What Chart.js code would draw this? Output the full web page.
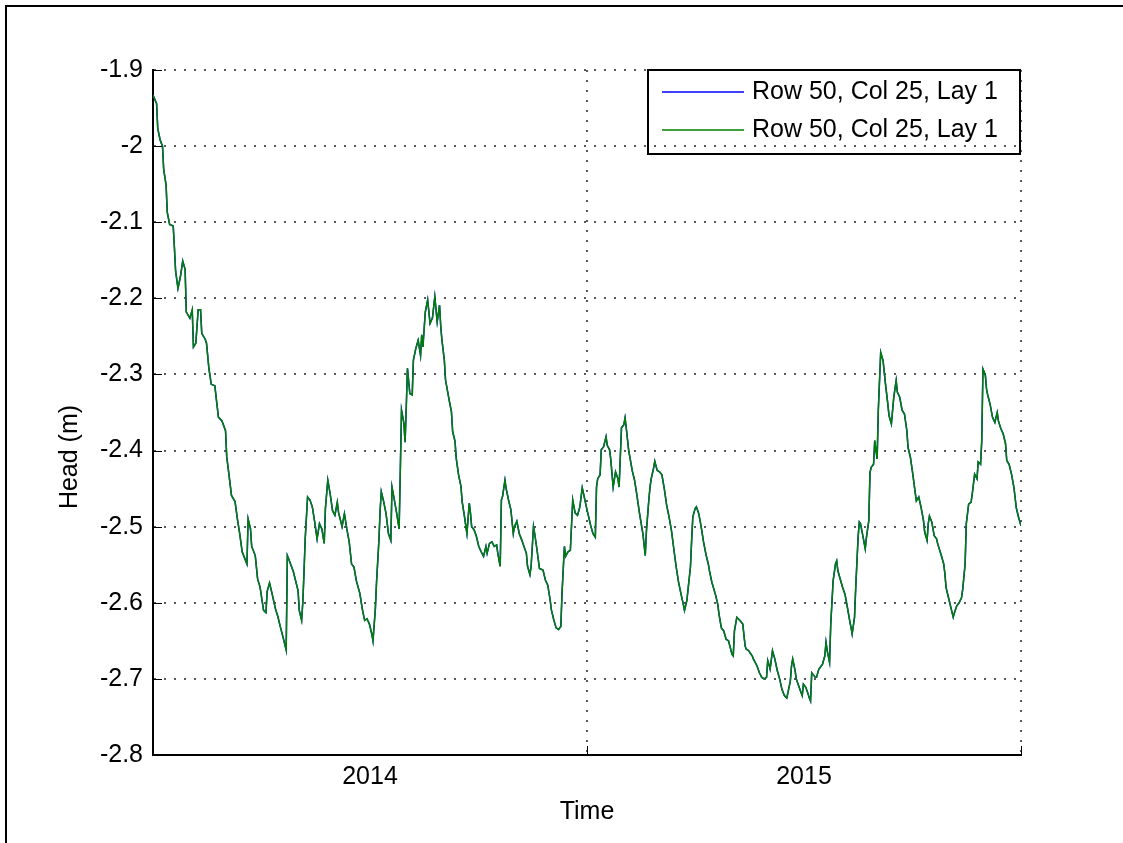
<!DOCTYPE html>
<html>
<head>
<meta charset="utf-8">
<script src="https://cdn.jsdelivr.net/npm/chart.js@4.4.1/dist/chart.umd.min.js"></script>
<style>
  body { margin: 0; background: #fff; }
  #wrap { position: relative; width: 1123px; height: 843px; overflow: hidden; }
  #frame { position: absolute; left: 5px; top: 5px; right: 0; bottom: 0;
           border-top: 2px solid #000; border-left: 2px solid #000; pointer-events: none; }
  canvas { position: absolute; left: 0; top: 0; }
</style>
</head>
<body>
<div id="wrap">
  <canvas id="headChart" width="1123" height="843"></canvas>
  <div id="frame"></div>
</div>
<script>
// days since 1 Jan 2014
const days = [
  0,3,4,6,8,9,11,12,14,17,
  18,19,21,23,25,27,28,31,33,34,
  36,38,40,41,44,45,47,49,52,55,
  58,61,62,64,66,69,71,73,75,77,
  79,80,82,83,86,88,90,93,95,96,
  98,100,103,105,107,110,112,113,115,118,
  122,123,125,126,127,128,130,132,134,136,
  138,140,142,144,145,147,149,151,153,155,
  156,159,161,163,165,167,169,171,174,176,
  178,180,182,184,185,187,188,190,191,192,
  194,196,198,200,201,203,205,207,208,209,
  211,212,213,214,216,218,219,221,223,225,
  226,227,229,231,233,235,237,239,241,242,
  243,245,246,
  249,251,252,254,255,257,259,260,262,264,
  266,267,268,270,272,274,276,278,280,281,
  283,285,287,289,290,292,293,294,296,297,
  299,301,303,304,306,308,310,312,314,315,
  317,318,320,321,323,325,328,330,332,334,
  335,337,339,341,343,344,346,347,349,351,
  353,355,357,359,361,362,365,367,
  368,370,372,373,374,376,377,379,381,382,
  384,385,387,389,391,392,394,396,397,398,
  400,403,405,407,409,411,412,414,415,417,
  418,419,421,422,424,426,428,430,432,434,
  436,438,440,442,444,446,447,449,450,452,
  453,454,456,457,459,461,463,465,467,468,
  470,473,475,476,478,480,482,484,
  487,488,489,491,494,496,498,499,501,504,
  505,508,510,512,514,516,517,518,519,521,
  523,525,527,529,531,533,534,536,537,538,
  540,541,543,545,546,547,549,551,552,553,
  554,557,558,560,562,563,565,566,567,569,
  570,572,574,575,576,578,580,582,584,586,
  587,588,590,591,593,594,595,597,599,600,
  602,603,604,606,607,609,
  610,612,614,616,618,619,621,623,625,626,
  628,630,632,634,635,637,639,641,642,644,
  646,648,649,651,652,653,655,657,659,660,
  663,665,666,667,669,671,673,674,676,678,
  680,681,683,684,686,688,689,691,693,694,
  696,697,698,700,701,702,704,706,708,710,
  711,713,715,717,718,720,722,724,725,726,
  728,730
];

// head (m) at Row 50, Col 25, Lay 1
const head = [
  -1.933,-1.944,-1.977,-1.992,-2.000,-2.031,-2.051,-2.087,-2.103,-2.105,
  -2.133,-2.164,-2.187,-2.172,-2.151,-2.162,-2.218,-2.226,-2.215,-2.264,
  -2.259,-2.215,-2.215,-2.246,-2.254,-2.259,-2.292,-2.313,-2.315,-2.356,
  -2.361,-2.374,-2.408,-2.433,-2.459,-2.467,-2.490,-2.510,-2.533,-2.541,
  -2.549,-2.490,-2.503,-2.526,-2.538,-2.569,-2.579,-2.610,-2.613,-2.585,
  -2.574,-2.587,-2.608,-2.618,-2.631,-2.649,-2.662,-2.538,-2.546,-2.559,
  -2.584,-2.610,-2.623,-2.599,-2.560,-2.516,-2.461,-2.465,-2.474,-2.494,
  -2.516,-2.496,-2.503,-2.522,-2.476,-2.439,-2.457,-2.479,-2.485,-2.468,
  -2.481,-2.500,-2.483,-2.503,-2.520,-2.549,-2.553,-2.571,-2.588,-2.608,
  -2.623,-2.621,-2.628,-2.641,-2.650,-2.608,-2.573,-2.518,-2.479,-2.454,
  -2.467,-2.483,-2.509,-2.518,-2.448,-2.465,-2.483,-2.503,-2.426,-2.347,
  -2.364,-2.389,-2.343,-2.292,-2.325,-2.327,-2.281,-2.266,-2.255,-2.275,
  -2.248,-2.264,-2.218,-2.202,-2.233,-2.226,-2.198,-2.231,-2.209,-2.237,
  -2.255,-2.281,-2.307,
  -2.333,-2.349,-2.375,-2.388,-2.410,-2.432,-2.447,-2.467,-2.487,-2.509,
  -2.469,-2.482,-2.500,-2.504,-2.513,-2.526,-2.533,-2.539,-2.526,-2.535,
  -2.522,-2.520,-2.526,-2.524,-2.535,-2.552,-2.465,-2.460,-2.439,-2.450,
  -2.465,-2.478,-2.509,-2.500,-2.493,-2.509,-2.517,-2.526,-2.535,-2.552,
  -2.563,-2.552,-2.500,-2.509,-2.531,-2.555,-2.557,-2.570,-2.577,-2.596,
  -2.609,-2.622,-2.633,-2.635,-2.631,-2.587,-2.526,-2.539,-2.533,-2.531,
  -2.465,-2.482,-2.485,-2.474,-2.449,-2.456,-2.478,-2.491,
  -2.498,-2.509,-2.514,-2.448,-2.437,-2.432,-2.399,-2.395,-2.382,-2.393,
  -2.399,-2.412,-2.448,-2.428,-2.437,-2.448,-2.370,-2.366,-2.357,-2.370,
  -2.399,-2.426,-2.439,-2.459,-2.481,-2.500,-2.509,-2.538,-2.505,-2.465,
  -2.448,-2.437,-2.423,-2.414,-2.426,-2.428,-2.432,-2.450,-2.472,-2.487,
  -2.505,-2.529,-2.553,-2.573,-2.588,-2.602,-2.610,-2.597,-2.582,-2.553,
  -2.518,-2.487,-2.476,-2.474,-2.483,-2.500,-2.520,-2.536,-2.549,-2.558,
  -2.573,-2.589,-2.602,-2.615,-2.633,-2.637,-2.648,-2.650,
  -2.668,-2.670,-2.637,-2.619,-2.624,-2.628,-2.657,-2.661,-2.663,-2.670,
  -2.674,-2.683,-2.692,-2.698,-2.700,-2.698,-2.676,-2.681,-2.687,-2.663,
  -2.674,-2.689,-2.700,-2.714,-2.722,-2.725,-2.718,-2.703,-2.683,-2.674,
  -2.689,-2.700,-2.709,-2.718,-2.722,-2.707,-2.711,-2.720,-2.725,-2.729,
  -2.692,-2.698,-2.698,-2.687,-2.683,-2.681,-2.670,-2.652,-2.663,-2.678,
  -2.628,-2.571,-2.549,-2.545,-2.558,-2.569,-2.580,-2.589,-2.606,-2.624,
  -2.632,-2.641,-2.619,-2.580,-2.514,-2.494,-2.496,-2.512,-2.529,-2.514,
  -2.492,-2.429,-2.422,-2.418,-2.387,-2.411,
  -2.347,-2.271,-2.282,-2.312,-2.339,-2.354,-2.365,-2.330,-2.308,-2.323,
  -2.330,-2.347,-2.352,-2.374,-2.396,-2.409,-2.431,-2.455,-2.466,-2.461,
  -2.475,-2.492,-2.507,-2.518,-2.496,-2.486,-2.494,-2.512,-2.516,-2.523,
  -2.538,-2.549,-2.562,-2.580,-2.593,-2.606,-2.619,-2.613,-2.604,-2.600,
  -2.593,-2.582,-2.549,-2.496,-2.470,-2.468,-2.457,-2.431,-2.437,-2.415,
  -2.418,-2.387,-2.293,-2.301,-2.319,-2.327,-2.339,-2.356,-2.363,-2.350,
  -2.361,-2.371,-2.378,-2.391,-2.413,-2.418,-2.431,-2.448,-2.461,-2.475,
  -2.488,-2.499
];

const seriesLabels = ["Row 50, Col 25, Lay 1", "Row 50, Col 25, Lay 1"];
const seriesColors = ["#0000ff", "#008000"];
const yTitle = "Head (m)";

// x axis: year boundaries get grid lines, year labels sit mid-year
const gridDays = [365, 730];
const xTicks = [0, 182.5, 365, 547.5, 730];
const xTickLabels = { 182.5: "2014", 547.5: "2015" };
const yMin = -2.8, yMax = -1.9, yStep = 0.1;

const FONT = { family: "'Liberation Sans', Arial, sans-serif", size: 25 };
const DOT = "rgba(0,0,0,0.65)";

const points = days.map((d, i) => ({ x: d, y: head[i] }));

// MATLAB-style inward tick marks + y label (sits a bit below centre in the original)
const axisExtras = {
  id: "axisExtras",
  afterDatasetsDraw(chart) {
    const { ctx, chartArea, scales } = chart;
    ctx.save();
    ctx.strokeStyle = "#000";
    ctx.lineWidth = 1;
    scales.y.ticks.forEach((t) => {
      const y = Math.round(scales.y.getPixelForValue(t.value)) + 0.5;
      ctx.beginPath();
      ctx.moveTo(chartArea.left, y);
      ctx.lineTo(chartArea.left + 9, y);
      ctx.stroke();
    });
    gridDays.forEach((d) => {
      const x = Math.round(scales.x.getPixelForValue(d)) + 0.5;
      ctx.beginPath();
      ctx.moveTo(x, chartArea.bottom);
      ctx.lineTo(x, chartArea.bottom - 9);
      ctx.stroke();
    });
    ctx.translate(70, 457);
    ctx.rotate(-Math.PI / 2);
    ctx.font = `${FONT.size}px ${FONT.family}`;
    ctx.textAlign = "center";
    ctx.textBaseline = "middle";
    ctx.fillStyle = "#000";
    ctx.fillText(yTitle, 0, 0);
    ctx.restore();
  }
};

// boxed legend in the top right corner
const boxLegend = {
  id: "boxLegend",
  afterDraw(chart) {
    const { ctx, chartArea } = chart;
    const left = chartArea.right - 373, top = chartArea.top, w = 372, h = 84;
    ctx.save();
    ctx.strokeStyle = "#000";
    ctx.lineWidth = 2;
    ctx.strokeRect(left, top, w, h);
    ctx.font = `${FONT.size}px ${FONT.family}`;
    ctx.textBaseline = "middle";
    ctx.fillStyle = "#000";
    chart.data.datasets.forEach((ds, i) => {
      const y = top + 22 + i * 38;
      ctx.strokeStyle = ds.borderColor;
      ctx.lineWidth = 1.5;
      ctx.beginPath();
      ctx.moveTo(left + 14, y);
      ctx.lineTo(left + 96, y);
      ctx.stroke();
      ctx.fillText(ds.label, left + 104, y);
    });
    ctx.restore();
  }
};

new Chart(document.getElementById("headChart"), {
  type: "line",
  data: {
    datasets: [
      { label: seriesLabels[0], data: points, borderColor: seriesColors[0], borderWidth: 1.5, order: 1 },
      { label: seriesLabels[1], data: points, borderColor: seriesColors[1], borderWidth: 1.5, order: 0 }
    ]
  },
  options: {
    responsive: false,
    animation: false,
    layout: { padding: { top: 70, right: 102, left: 0, bottom: 0 } },
    elements: { point: { radius: 0 }, line: { tension: 0, fill: false } },
    plugins: { legend: { display: false }, tooltip: { enabled: false } },
    scales: {
      x: {
        type: "linear",
        min: 0,
        max: 730,
        afterBuildTicks: (scale) => { scale.ticks = xTicks.map((v) => ({ value: v })); },
        afterFit: (scale) => { scale.height = 88; },
        ticks: {
          autoSkip: false,
          maxRotation: 0,
          padding: 7,
          color: "#000",
          font: FONT,
          callback: (v) => xTickLabels[v] || ""
        },
        grid: {
          drawTicks: false,
          lineWidth: 2,
          color: (c) => (c.tick && gridDays.includes(c.tick.value) ? DOT : "rgba(0,0,0,0)")
        },
        border: { display: true, color: "#000", width: 2, dash: [2, 8] },
        title: { display: true, text: "Time", color: "#000", font: FONT, padding: { top: 0, bottom: 16 } }
      },
      y: {
        min: yMin,
        max: yMax,
        afterFit: (scale) => { scale.width = 153; },
        ticks: {
          stepSize: yStep,
          padding: 10,
          color: "#000",
          font: FONT,
          callback: (v) => String(+v.toFixed(1))
        },
        grid: { drawTicks: false, lineWidth: 2, color: DOT },
        border: { display: true, color: "#000", width: 2, dash: [2, 8] },
        title: { display: false }
      }
    }
  },
  plugins: [axisExtras, boxLegend]
});
</script>
</body>
</html>
